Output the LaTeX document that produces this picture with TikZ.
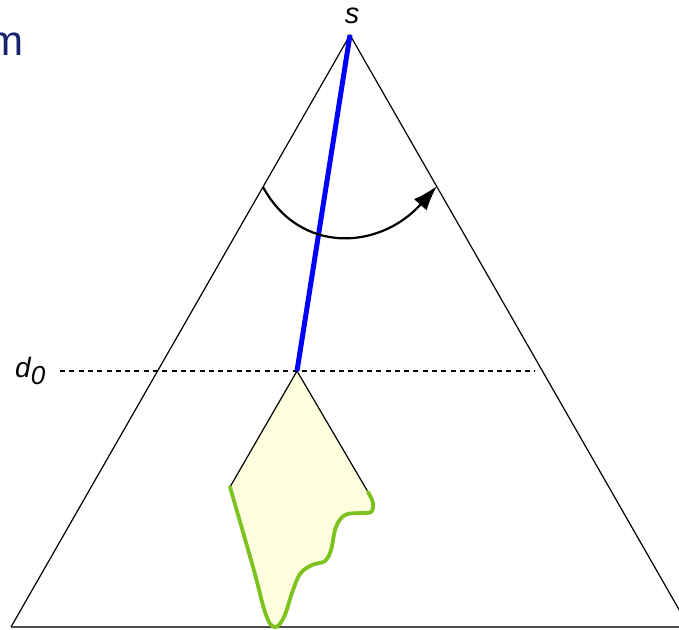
\documentclass[tikz,border=0pt]{standalone}
\usepackage{fontspec}
\setmainfont{Liberation Sans}
\usetikzlibrary{arrows.meta}
\definecolor{navy}{RGB}{20,36,110}
\definecolor{lgreen}{RGB}{125,194,30}
\definecolor{lyellow}{RGB}{255,255,224}
\definecolor{pureblue}{RGB}{0,0,255}
\tikzset{
  edge/.style={black, line width=1.2pt},
  lbl/.style={inner sep=0pt, font=\itshape},
}
\begin{document}
\begin{tikzpicture}[x=1pt,y=-1pt]
\useasboundingbox (0,0) rectangle (679,629);
\begin{scope}
\clip (0,0) rectangle (679,629);
% key points
\coordinate (s) at (350,35);
\coordinate (bl) at (11,627);
\coordinate (br) at (689,627);
\coordinate (d0l) at (60,371);
\coordinate (d0r) at (535,371);
\coordinate (p) at (297,371);
\coordinate (ql) at (230,487);
\coordinate (qr) at (368,492);
\coordinate (a1) at (263,187);
\coordinate (a2) at (437,186);
% filled region
\fill[lyellow] (p) -- (ql) -- plot[smooth, tension=0.6] coordinates {(230,487) (253,567) (266,615) (275,627) (284,617) (292,593) (300,574) (312,565) (325,561) (331,550) (336,527) (345,515) (360,513) (371,512) (373,503) (368,492)} -- cycle;
% triangle
\draw[edge] (bl) -- (s) -- (br);
\draw[line width=2pt, black!70] (bl) -- (br);
% dashed
\draw[edge, dash pattern=on 5pt off 4.3pt] (d0l) -- (d0r);
% region sides
\draw[edge] (ql) -- (p) -- (qr);
\draw[lgreen, line width=3.8pt, line cap=round] plot[smooth, tension=0.6] coordinates {(230,487) (253,567) (266,615) (275,627) (284,617) (292,593) (300,574) (312,565) (325,561) (331,550) (336,527) (345,515) (360,513) (371,512) (373,503) (368,492)};
% blue line
\draw[pureblue, line width=5pt] (s) -- (p);
% arc arrow
\draw[line width=2.2pt, -{Latex[length=25pt,width=17pt]}] (a1) .. controls (300,255) and (380,250) .. (a2);
\end{scope}
% labels
\node[lbl, anchor=base, font=\itshape\fontsize{29}{30}\selectfont] (slbl) at (352,23) {s};
\node[lbl, anchor=base west, font=\itshape\fontsize{28}{30}\selectfont] (dlbl) at (15,377) {d\raisebox{-7pt}{\fontsize{26}{28}\selectfont 0}};
\node[inner sep=0pt, anchor=base east, text=navy, font=\fontsize{42}{44}\selectfont] (mlbl) at (24,55) {m};
\end{tikzpicture}
\end{document}
